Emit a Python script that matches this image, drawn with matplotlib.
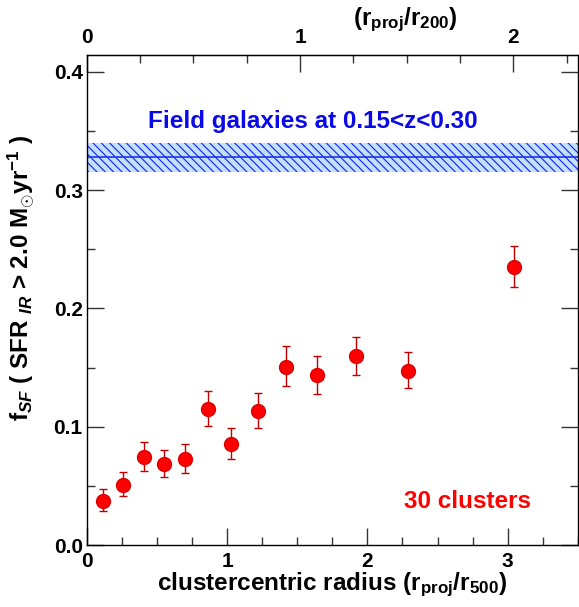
import matplotlib
matplotlib.use('Agg')
import matplotlib.pyplot as plt
import numpy as np
from matplotlib.ticker import MultipleLocator, FixedLocator

plt.rcParams['font.family'] = ['Liberation Sans', 'DejaVu Sans']
plt.rcParams['font.weight'] = 'bold'
plt.rcParams['mathtext.fontset'] = 'custom'
plt.rcParams['mathtext.rm'] = 'Liberation Sans:bold'
plt.rcParams['mathtext.it'] = 'Liberation Sans:bold:italic'
plt.rcParams['mathtext.bf'] = 'Liberation Sans:bold'
plt.rcParams['hatch.color'] = '#1a1aff'
plt.rcParams['hatch.linewidth'] = 0.8

# data
r500 = [0.117, 0.26, 0.41, 0.55, 0.70, 0.864, 1.031, 1.219, 1.421, 1.643, 1.917, 2.29, 3.045]
fsf = [0.0372, 0.0507, 0.0741, 0.0682, 0.0724, 0.1147, 0.0851, 0.113, 0.1507, 0.1434, 0.1595, 0.1474, 0.2353]
err_hi = [0.047, 0.0614, 0.0868, 0.0806, 0.0851, 0.1305, 0.0992, 0.1282, 0.168, 0.1595, 0.1755, 0.1632, 0.253]
err_lo = [0.029, 0.0414, 0.0625, 0.0572, 0.0611, 0.1009, 0.0724, 0.0992, 0.1347, 0.1279, 0.144, 0.133, 0.2178]

field_frac = 0.3282
field_lo = 0.3157
field_hi = 0.3396

r200_over_r500 = 1.52
top_ticks = [0, 1, 2]

fsf = np.array(fsf)
yerr = [fsf - np.array(err_lo), np.array(err_hi) - fsf]

fig = plt.figure(figsize=[5.79, 6.07], dpi=100)
ax = fig.add_axes([0.150, 0.102, 0.848, 0.807])

xlims = [0., 3.5]
ylims = [0., 0.414]

# field band
ax.fill_between(xlims, field_lo, field_hi, facecolor='#c2e0ff', edgecolor='#1a1aff',
                hatch='\\\\\\\\', linewidth=0, zorder=1)
ax.plot(xlims, [field_frac, field_frac], color='#1a3adf', lw=1.2, zorder=2)
ax.text(0.436, 0.3576, 'Field galaxies at 0.15<z<0.30', color='#0a0ae6',
        fontsize=17.5, fontweight='bold', va='center', ha='left')

ax.errorbar(r500, fsf, yerr=yerr, fmt='o', color='red', ms=10, mec='#dd0000',
            ecolor='#c00000', elinewidth=1.0, capsize=3, capthick=1.0, zorder=3)
ax.text(2.26, 0.037, '30 clusters', color='red', fontsize=17.5, fontweight='bold',
        va='center', ha='left')

ax.set_xlim(xlims)
ax.set_ylim(ylims)
ax.xaxis.set_major_locator(MultipleLocator(1))
ax.xaxis.set_minor_locator(MultipleLocator(0.25))
ax.yaxis.set_major_locator(MultipleLocator(0.1))
ax.yaxis.set_minor_locator(MultipleLocator(0.05))
ax.yaxis.set_major_formatter(matplotlib.ticker.FormatStrFormatter('%.1f'))
ax.tick_params(which='both', direction='in', right=True, top=False, color='#333333', width=1.0,
               labelsize=15)
ax.tick_params(axis='y', pad=3)
ax.tick_params(axis='x', pad=5)
ax.tick_params(which='major', length=12)
ax.tick_params(which='minor', length=6)
for s in ax.spines.values():
    s.set_linewidth(1.0)

# top axis in units of r200
top = ax.secondary_xaxis('top', functions=(lambda x: x / r200_over_r500,
                                           lambda x: x * r200_over_r500))
top.xaxis.set_major_locator(FixedLocator(top_ticks))
top.xaxis.set_minor_locator(FixedLocator(np.arange(0.25, 2.3, 0.25)))
top.tick_params(which='both', direction='in', color='#333333', width=1.0, labelsize=15, pad=6)
top.tick_params(which='major', length=12)
top.tick_params(which='minor', length=6)

ax.set_xlabel(r'clustercentric radius (r$_{\mathrm{proj}}$/r$_{\mathrm{500}}$)', fontsize=17.5,
              fontweight='bold', labelpad=0)
fig.text(405 / 579., 1 - 20 / 607., r'(r$_{\mathrm{proj}}$/r$_{\mathrm{200}}$)', fontsize=17.5,
         fontweight='bold', ha='center', va='center')
fig.text(21 / 579., 1 - 278 / 607., r'f$_{SF}$ ( SFR $_{IR}$ > 2.0 M$_{\odot}$yr$^{-1}$ )',
         fontsize=17.5, fontweight='bold', rotation=90, ha='center', va='center')

plt.savefig('out.png')
